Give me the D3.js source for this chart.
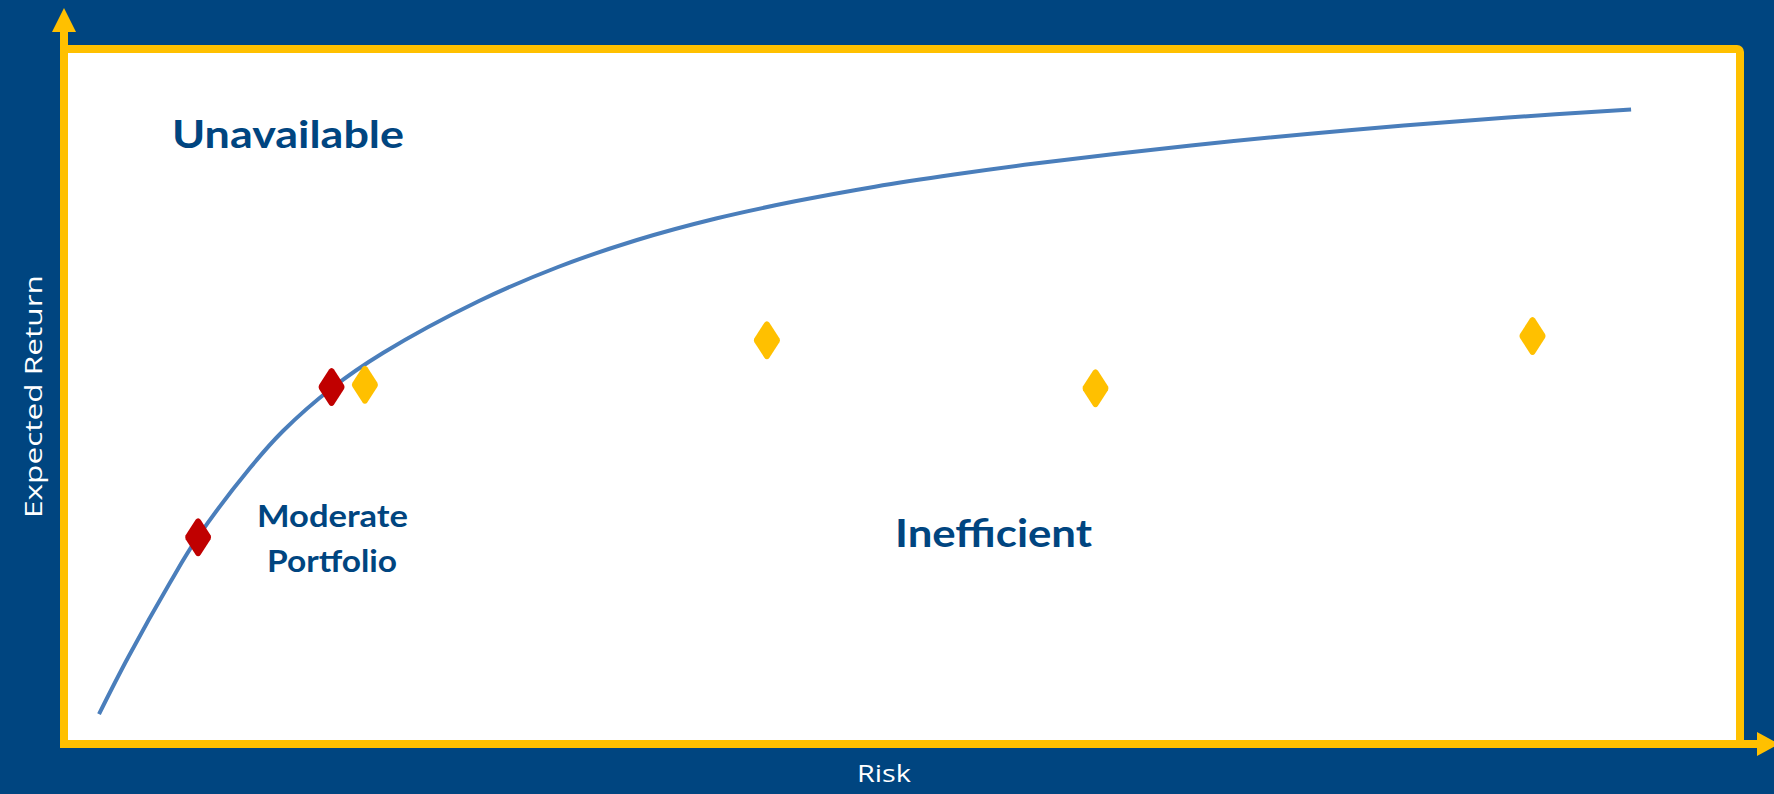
<!doctype html>
<html lang="en">
<head>
  <meta charset="utf-8">
  <style>
    html, body { margin: 0; padding: 0; background: #004580; }
    svg { display: block; }
  </style>
</head>
<body>
  <script src="https://d3js.org/d3.v7.min.js"></script>
  <div id="chart"></div>
  <script>
    // Efficient frontier curve (risk, expected return), both on 0-100 scale
    var frontierRisk   = [1.86, 3.60, 6.12, 7.79, 10.91, 12.89, 15.83, 18.88, 24.64, 29.38, 34.11, 38.85, 43.59, 48.38, 53.12, 57.85, 67.33, 76.80, 86.33, 93.71];
    var frontierReturn = [3.78, 12.01, 22.93, 29.55, 39.59, 44.98, 51.24, 56.33, 63.90, 68.85, 72.78, 75.91, 78.41, 80.54, 82.31, 83.87, 86.54, 88.76, 90.61, 91.79];

    // Portfolios on the frontier (red) and inefficient ones (yellow)
    var efficientRisk   = [7.8, 15.8];
    var efficientReturn = [29.5, 51.4];
    var inefficientRisk   = [17.8, 41.9, 61.6, 87.8];
    var inefficientReturn = [51.7, 58.2, 51.2, 58.8];

    var regionLabels = ["Unavailable", "Inefficient"];
    var moderateLines = ["Moderate", "Portfolio"];
    var xTitle = "Risk", yTitle = "Expected Return";

    var width = 1774, height = 794;
    var navy = "#004580", gold = "#FFC000", red = "#C00000", lineBlue = "#4A7EBB";
    var box = {left: 64, top: 49, right: 1740, bottom: 744};

    var svg = d3.select("#chart").append("svg")
                .attr("width", width)
                .attr("height", height);

    svg.append("rect").attr("width", width).attr("height", height).attr("fill", navy);

    var x = d3.scaleLinear().domain([0, 100]).range([box.left + 4, box.right - 4]);
    var y = d3.scaleLinear().domain([0, 100]).range([box.bottom - 4, box.top + 4]);

    // plot frame
    svg.append("rect")
       .attr("x", box.left).attr("y", box.top)
       .attr("width", box.right - box.left).attr("height", box.bottom - box.top)
       .attr("rx", 3)
       .attr("fill", "white")
       .attr("stroke", gold)
       .attr("stroke-width", 8);

    // axis arrows
    svg.append("line")
       .attr("x1", box.left).attr("y1", box.bottom + 4)
       .attr("x2", box.left).attr("y2", 30)
       .attr("stroke", gold).attr("stroke-width", 8);
    svg.append("path")
       .attr("d", "M" + box.left + ",8L" + (box.left - 12) + ",32L" + (box.left + 12) + ",32Z")
       .attr("fill", gold);
    svg.append("line")
       .attr("x1", box.left - 4).attr("y1", box.bottom)
       .attr("x2", 1759).attr("y2", box.bottom)
       .attr("stroke", gold).attr("stroke-width", 8);
    svg.append("path")
       .attr("d", "M1779," + box.bottom + "L1757," + (box.bottom - 12) + "L1757," + (box.bottom + 12) + "Z")
       .attr("fill", gold);

    // frontier
    var pts = frontierRisk.map(function(r, i) { return [r, frontierReturn[i]]; });
    var line = d3.line()
                 .x(function(d) { return x(d[0]); })
                 .y(function(d) { return y(d[1]); })
                 .curve(d3.curveCatmullRom.alpha(0.5));
    svg.append("path")
       .datum(pts)
       .attr("d", line)
       .attr("fill", "none")
       .attr("stroke", lineBlue)
       .attr("stroke-width", 4);

    // diamond markers
    var diamond = "M0,-19Q1.5,-19 2.5,-17.5L12.5,-2Q13.5,0 12.5,2L2.5,17.5Q1.5,19 0,19Q-1.5,19 -2.5,17.5L-12.5,2Q-13.5,0 -12.5,-2L-2.5,-17.5Q-1.5,-19 0,-19Z";
    function drawDiamonds(rs, rets, color) {
      svg.append("g").selectAll("path")
         .data(rs.map(function(r, i) { return [r, rets[i]]; }))
         .enter().append("path")
         .attr("d", diamond)
         .attr("transform", function(d) { return "translate(" + x(d[0]) + "," + y(d[1]) + ")"; })
         .attr("fill", color);
    }
    drawDiamonds(inefficientRisk, inefficientReturn, gold);
    drawDiamonds(efficientRisk, efficientReturn, red);

    // region labels
    var labelFont = "Lato, 'Open Sans', sans-serif";
    svg.append("text")
       .attr("x", 172).attr("y", 148)
       .attr("textLength", 232).attr("lengthAdjust", "spacingAndGlyphs")
       .style("font-family", labelFont).style("font-weight", 700)
       .style("font-size", "38px").attr("fill", navy)
       .text(regionLabels[0]);
    svg.append("text")
       .attr("x", 895).attr("y", 547)
       .attr("textLength", 197).attr("lengthAdjust", "spacingAndGlyphs")
       .style("font-family", labelFont).style("font-weight", 700)
       .style("font-size", "39px").attr("fill", navy)
       .text(regionLabels[1]);
    svg.append("text")
       .attr("x", 257).attr("y", 527)
       .attr("textLength", 151).attr("lengthAdjust", "spacingAndGlyphs")
       .style("font-family", labelFont).style("font-weight", 700)
       .style("font-size", "31px").attr("fill", navy)
       .text(moderateLines[0]);
    svg.append("text")
       .attr("x", 267).attr("y", 572)
       .attr("textLength", 130).attr("lengthAdjust", "spacingAndGlyphs")
       .style("font-family", labelFont).style("font-weight", 700)
       .style("font-size", "31px").attr("fill", navy)
       .text(moderateLines[1]);

    // axis titles
    svg.append("text")
       .attr("x", 857).attr("y", 782)
       .attr("textLength", 54).attr("lengthAdjust", "spacingAndGlyphs")
       .style("font-family", "'Open Sans', sans-serif")
       .style("font-size", "24px").attr("fill", "white")
       .text(xTitle);
    svg.append("text")
       .attr("transform", "translate(42,518) rotate(-90)")
       .attr("textLength", 243).attr("lengthAdjust", "spacingAndGlyphs")
       .style("font-family", "'Open Sans', sans-serif")
       .style("font-size", "24px").attr("fill", "white")
       .text(yTitle);
  </script>
</body>
</html>
